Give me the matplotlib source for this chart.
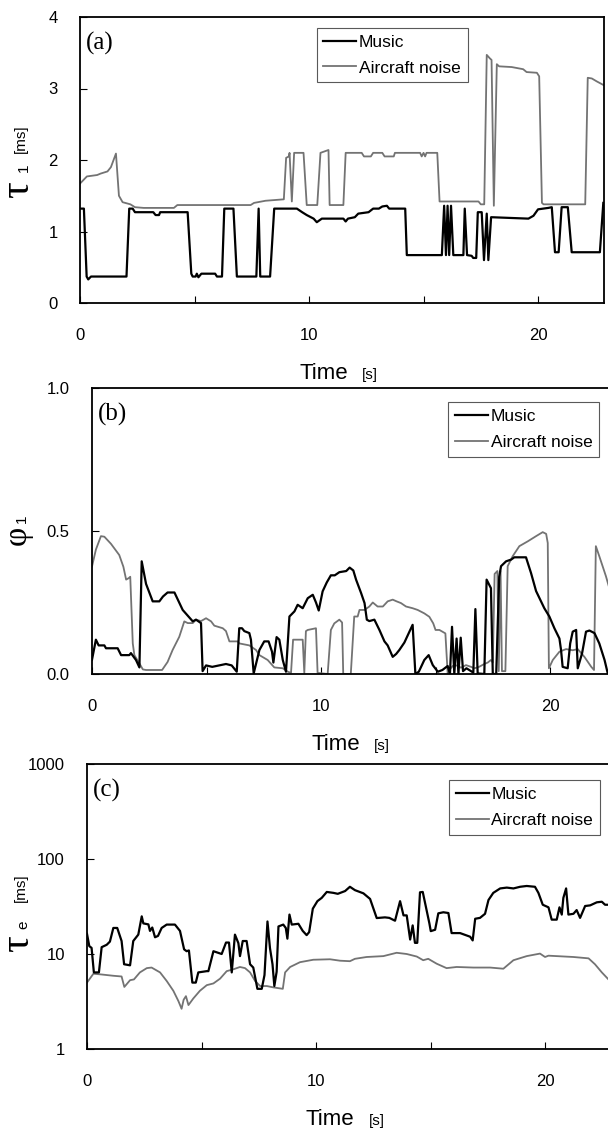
import matplotlib
matplotlib.use('Agg')
import matplotlib.pyplot as plt
from matplotlib.ticker import FixedLocator, NullLocator

plt.rcParams['font.family'] = ['Liberation Sans', 'DejaVu Sans']

# ---------------- data ----------------
# (a) tau_1 [ms]
t_a_mus = [
    0.00, 0.17, 0.29, 0.36, 0.48, 2.03, 2.15, 2.30, 2.40, 3.20,
    3.30, 3.45, 3.50, 4.70, 4.86, 4.92, 5.05, 5.10, 5.17, 5.30,
    5.90, 5.98, 6.20, 6.30, 6.70, 6.85, 7.70, 7.80, 7.87, 8.30,
    8.48, 9.47, 9.70, 9.90, 10.20, 10.34, 10.56, 11.50, 11.60, 11.70,
    12.00, 12.15, 12.60, 12.80, 13.05, 13.20, 13.40, 13.50, 14.20, 14.27,
    15.80, 15.90, 15.98, 16.05, 16.12, 16.20, 16.30, 16.74, 16.80, 16.90,
    17.10, 17.17, 17.30, 17.37, 17.54, 17.64, 17.76, 17.83, 17.95, 19.58,
    19.80, 20.00, 20.45, 20.60, 20.74, 20.90, 21.03, 21.30, 21.47, 22.70,
    22.85]
v_a_mus = [
    1.32, 1.32, 0.37, 0.33, 0.37, 0.37, 1.32, 1.32, 1.27, 1.27,
    1.23, 1.23, 1.27, 1.27, 0.41, 0.37, 0.37, 0.41, 0.36, 0.41,
    0.41, 0.37, 0.37, 1.32, 1.32, 0.37, 0.37, 1.32, 0.37, 0.37,
    1.32, 1.32, 1.27, 1.23, 1.18, 1.13, 1.18, 1.18, 1.14, 1.18,
    1.20, 1.25, 1.27, 1.32, 1.32, 1.35, 1.36, 1.32, 1.32, 0.67,
    0.67, 1.36, 0.67, 1.36, 0.67, 1.36, 0.67, 0.67, 1.32, 0.67,
    0.66, 0.63, 0.63, 1.27, 1.27, 0.60, 1.25, 0.60, 1.20, 1.18,
    1.22, 1.31, 1.33, 1.34, 0.71, 0.71, 1.34, 1.34, 0.71, 0.71,
    1.40]
t_a_air = [
    0.00, 0.30, 0.75, 0.90, 1.20, 1.35, 1.57, 1.70, 1.86, 2.20,
    2.40, 2.78, 4.10, 4.25, 7.45, 7.60, 8.10, 8.90, 9.00, 9.12,
    9.15, 9.25, 9.35, 9.76, 9.90, 10.36, 10.50, 10.85, 10.90, 11.50,
    11.60, 12.30, 12.40, 12.70, 12.80, 13.20, 13.30, 13.70, 13.75, 14.85,
    14.92, 15.00, 15.07, 15.13, 15.30, 15.60, 15.70, 17.40, 17.50, 17.65,
    17.76, 17.90, 17.97, 18.07, 18.20, 18.30, 18.85, 19.35, 19.50, 19.95,
    20.05, 20.17, 20.24, 22.06, 22.17, 22.35, 22.56, 22.85]
v_a_air = [
    1.67, 1.77, 1.79, 1.81, 1.84, 1.90, 2.09, 1.50, 1.41, 1.38,
    1.34, 1.33, 1.33, 1.37, 1.37, 1.40, 1.43, 1.45, 2.03, 2.05,
    2.10, 1.42, 2.10, 2.10, 1.37, 1.37, 2.10, 2.14, 1.37, 1.37,
    2.10, 2.10, 2.05, 2.05, 2.10, 2.10, 2.05, 2.05, 2.10, 2.10,
    2.05, 2.10, 2.05, 2.10, 2.10, 2.10, 1.42, 1.42, 1.38, 1.38,
    3.47, 3.42, 3.40, 1.36, 3.34, 3.31, 3.30, 3.27, 3.23, 3.22,
    3.17, 1.40, 1.38, 1.38, 3.15, 3.14, 3.10, 3.05]

# (b) phi_1
t_b_mus = [
    0.00, 0.17, 0.29, 0.54, 0.61, 1.12, 1.27, 1.63, 1.70, 1.92,
    2.07, 2.17, 2.36, 2.65, 2.94, 3.10, 3.30, 3.60, 3.96, 4.40,
    4.54, 4.76, 4.83, 4.98, 5.25, 5.55, 5.85, 6.10, 6.32, 6.43,
    6.55, 6.65, 6.87, 6.94, 7.06, 7.31, 7.52, 7.71, 7.86, 7.92,
    8.06, 8.18, 8.33, 8.47, 8.62, 8.84, 8.98, 9.20, 9.42, 9.64,
    9.78, 9.90, 10.07, 10.25, 10.43, 10.60, 10.80, 11.10, 11.25, 11.41,
    11.53, 11.75, 11.90, 12.00, 12.11, 12.33, 12.55, 12.77, 12.91, 13.13,
    13.28, 13.42, 13.64, 13.86, 14.00, 14.12, 14.27, 14.51, 14.70, 14.88,
    15.10, 15.30, 15.53, 15.63, 15.72, 15.82, 15.92, 16.00, 16.10, 16.20,
    16.35, 16.55, 16.65, 16.74, 16.84, 17.13, 17.23, 17.42, 17.50, 17.65,
    17.78, 17.86, 18.08, 18.30, 18.44, 18.95, 19.17, 19.39, 19.75, 19.97,
    20.19, 20.41, 20.48, 20.55, 20.77, 20.88, 20.99, 21.14, 21.21, 21.40,
    21.57, 21.72, 21.94, 22.15, 22.38, 22.52, 22.85]
v_b_mus = [
    0.050, 0.120, 0.100, 0.100, 0.090, 0.090, 0.066, 0.066, 0.073, 0.049,
    0.023, 0.394, 0.315, 0.254, 0.254, 0.271, 0.285, 0.285, 0.224, 0.184,
    0.190, 0.178, 0.010, 0.030, 0.025, 0.030, 0.035, 0.030, 0.008, 0.160,
    0.160, 0.150, 0.143, 0.120, 0.002, 0.084, 0.114, 0.114, 0.078, 0.040,
    0.129, 0.120, 0.049, 0.008, 0.201, 0.219, 0.242, 0.230, 0.265, 0.277,
    0.250, 0.222, 0.289, 0.320, 0.345, 0.345, 0.356, 0.360, 0.372, 0.362,
    0.330, 0.283, 0.248, 0.190, 0.185, 0.190, 0.154, 0.114, 0.100, 0.060,
    0.070, 0.084, 0.110, 0.148, 0.172, 0.000, 0.008, 0.049, 0.066, 0.031,
    0.008, 0.014, 0.028, 0.000, 0.165, 0.000, 0.124, 0.000, 0.127, 0.010,
    0.020, 0.010, 0.005, 0.227, 0.002, 0.000, 0.330, 0.300, 0.000, 0.000,
    0.340, 0.377, 0.394, 0.400, 0.408, 0.408, 0.353, 0.290, 0.230, 0.201,
    0.160, 0.124, 0.084, 0.025, 0.020, 0.107, 0.148, 0.154, 0.020, 0.073,
    0.148, 0.152, 0.143, 0.107, 0.049, 0.002, 0.000]
t_b_air = [
    0.00, 0.17, 0.39, 0.54, 0.83, 1.19, 1.37, 1.49, 1.60, 1.67,
    1.78, 1.85, 2.07, 2.22, 2.36, 3.06, 3.30, 3.52, 3.81, 4.03,
    4.18, 4.40, 4.54, 4.76, 4.98, 5.20, 5.34, 5.71, 5.85, 6.00,
    6.36, 6.43, 6.87, 7.16, 7.31, 7.67, 7.96, 8.33, 8.55, 8.69,
    8.78, 9.20, 9.27, 9.34, 9.42, 9.78, 9.85, 10.29, 10.43, 10.58,
    10.80, 10.92, 10.97, 11.30, 11.45, 11.60, 11.68, 11.90, 12.11, 12.26,
    12.47, 12.70, 12.91, 13.13, 13.30, 13.49, 13.71, 14.00, 14.22, 14.51,
    14.73, 14.90, 15.00, 15.17, 15.30, 15.43, 15.53, 15.60, 15.75, 15.95,
    16.11, 16.33, 16.55, 16.70, 16.90, 17.13, 17.28, 17.42, 17.50, 17.58,
    17.70, 17.76, 17.84, 17.90, 18.05, 18.15, 18.37, 18.66, 19.03, 19.39,
    19.68, 19.83, 19.90, 19.95, 20.12, 20.41, 20.70, 20.99, 21.21, 21.50,
    21.80, 21.92, 22.00, 22.15, 22.44, 22.59, 22.85]
v_b_air = [
    0.376, 0.435, 0.482, 0.480, 0.455, 0.416, 0.375, 0.330, 0.335, 0.340,
    0.107, 0.066, 0.037, 0.016, 0.014, 0.014, 0.042, 0.084, 0.130, 0.184,
    0.178, 0.178, 0.190, 0.185, 0.195, 0.184, 0.169, 0.160, 0.150, 0.114,
    0.114, 0.107, 0.100, 0.084, 0.066, 0.049, 0.023, 0.020, 0.008, 0.004,
    0.120, 0.120, 0.004, 0.150, 0.154, 0.160, 0.004, 0.000, 0.154, 0.177,
    0.190, 0.180, 0.000, 0.000, 0.201, 0.201, 0.224, 0.224, 0.236, 0.250,
    0.236, 0.236, 0.254, 0.260, 0.254, 0.248, 0.236, 0.230, 0.224, 0.212,
    0.200, 0.177, 0.154, 0.154, 0.148, 0.142, 0.002, 0.014, 0.028, 0.030,
    0.022, 0.031, 0.025, 0.020, 0.025, 0.035, 0.040, 0.049, 0.040, 0.350,
    0.360, 0.010, 0.360, 0.010, 0.010, 0.377, 0.412, 0.447, 0.464, 0.482,
    0.496, 0.490, 0.458, 0.020, 0.049, 0.078, 0.087, 0.083, 0.087, 0.060,
    0.025, 0.014, 0.447, 0.412, 0.342, 0.300, 0.250]

# (c) tau_e [ms]
t_c_mus = [
    0.00, 0.10, 0.20, 0.30, 0.52, 0.64, 0.86, 1.00, 1.15, 1.32,
    1.51, 1.62, 1.88, 2.02, 2.24, 2.39, 2.46, 2.68, 2.75, 2.85,
    2.97, 3.10, 3.26, 3.48, 3.84, 4.06, 4.24, 4.35, 4.45, 4.60,
    4.75, 4.86, 5.23, 5.30, 5.52, 5.88, 6.07, 6.20, 6.32, 6.46,
    6.61, 6.68, 6.80, 6.97, 7.12, 7.26, 7.44, 7.63, 7.75, 7.88,
    7.99, 8.10, 8.18, 8.28, 8.36, 8.57, 8.68, 8.75, 8.84, 8.94,
    9.23, 9.42, 9.59, 9.70, 9.86, 10.06, 10.25, 10.47, 10.76, 10.95,
    11.27, 11.48, 11.70, 12.07, 12.36, 12.65, 13.01, 13.20, 13.45, 13.67,
    13.82, 13.96, 14.11, 14.22, 14.32, 14.42, 14.54, 14.66, 14.80, 14.95,
    15.01, 15.20, 15.34, 15.56, 15.78, 15.92, 16.29, 16.51, 16.73, 16.84,
    16.95, 17.16, 17.38, 17.53, 17.74, 18.04, 18.33, 18.62, 18.91, 19.20,
    19.56, 19.71, 19.90, 20.15, 20.29, 20.51, 20.63, 20.73, 20.80, 20.92,
    21.02, 21.24, 21.38, 21.53, 21.75, 21.97, 22.26, 22.48, 22.62, 22.85]
v_c_mus = [
    16.3, 12.1, 11.6, 6.4, 6.4, 11.8, 12.5, 13.5, 18.8, 18.8,
    13.7, 7.8, 7.6, 13.7, 16.0, 24.9, 21.0, 20.5, 17.5, 19.0,
    15.0, 15.5, 18.8, 20.4, 20.4, 17.5, 11.2, 10.7, 10.9, 5.0,
    5.0, 6.4, 6.6, 6.6, 10.7, 10.0, 13.2, 13.2, 6.4, 16.0,
    13.0, 9.5, 13.7, 13.7, 7.8, 7.2, 4.3, 4.3, 6.0, 22.0,
    11.5, 7.8, 4.6, 6.5, 19.5, 20.4, 18.8, 14.5, 26.0, 20.4,
    20.8, 17.5, 15.8, 17.0, 30.0, 36.0, 39.0, 45.0, 44.0, 43.0,
    46.0, 51.0, 47.0, 43.5, 38.0, 23.9, 24.3, 24.0, 22.4, 36.0,
    25.5, 25.5, 14.2, 20.0, 13.1, 13.1, 44.6, 45.0, 31.0, 21.0,
    17.4, 18.0, 26.8, 27.5, 27.0, 16.6, 16.6, 15.9, 15.2, 13.9,
    23.5, 24.0, 26.5, 37.0, 44.0, 49.0, 50.0, 49.0, 51.0, 52.0,
    51.0, 44.0, 33.0, 31.0, 23.0, 23.0, 31.0, 26.0, 39.0, 49.0,
    26.0, 26.5, 29.0, 24.0, 32.0, 32.5, 35.0, 35.5, 33.0, 33.0]
t_c_air = [
    0.00, 0.28, 0.60, 1.15, 1.51, 1.63, 1.88, 2.05, 2.31, 2.61,
    2.82, 3.19, 3.48, 3.77, 3.99, 4.13, 4.22, 4.32, 4.43, 4.64,
    4.93, 5.23, 5.52, 5.81, 6.10, 6.39, 6.68, 6.90, 7.12, 7.34,
    7.56, 7.85, 8.14, 8.55, 8.65, 8.87, 9.30, 9.88, 10.61, 11.05,
    11.48, 11.70, 12.21, 12.94, 13.52, 13.96, 14.40, 14.68, 14.90, 15.27,
    15.70, 16.14, 16.87, 17.60, 18.18, 18.62, 19.20, 19.78, 20.00, 20.15,
    21.24, 21.90, 22.18, 22.48, 22.77, 22.85]
v_c_air = [
    5.0, 6.2, 6.1, 5.9, 5.8, 4.5, 5.3, 5.4, 6.4, 7.1,
    7.2, 6.4, 5.2, 4.1, 3.2, 2.65, 3.3, 3.6, 2.9, 3.4,
    4.1, 4.7, 4.9, 5.5, 6.6, 6.9, 7.3, 7.1, 6.4, 5.2,
    4.6, 4.6, 4.45, 4.3, 6.4, 7.3, 8.2, 8.7, 8.8, 8.5,
    8.4, 8.9, 9.3, 9.5, 10.3, 10.0, 9.4, 8.6, 8.9, 7.9,
    7.1, 7.3, 7.2, 7.2, 7.0, 8.6, 9.5, 10.1, 9.3, 9.6,
    9.3, 9.0, 7.8, 6.4, 5.4, 5.2]

series_names = ['Music', 'Aircraft noise']
x_major = [0, 10, 20]
x_minor = [5, 15]
XMAX = 22.88

# ---------------- layout ----------------
W, H = 608, 1133
fig = plt.figure(figsize=(W / 100, H / 100), dpi=100)


def box(left, top, bottom, right):
    return [left / W, 1 - bottom / H, (right - left) / W, (bottom - top) / H]


def ftext(x, y, s, **kw):
    fig.text(x / W, 1 - y / H, s, **kw)


ax_a = fig.add_axes(box(80, 17, 303, 604))
ax_b = fig.add_axes(box(92, 388, 674, 616))
ax_c = fig.add_axes(box(87, 764, 1049, 611))

panels = [
    (ax_a, t_a_mus, v_a_mus, t_a_air, v_a_air, '(a)', (0.740, 0.962)),
    (ax_b, t_b_mus, v_b_mus, t_b_air, v_b_air, '(b)', (0.968, 0.951)),
    (ax_c, t_c_mus, v_c_mus, t_c_air, v_c_air, '(c)', (0.979, 0.944)),
]

for ax, tm, vm, tn, vn, tag, anchor in panels:
    ax.plot(tm, vm, color='black', lw=1.6, label=series_names[0], zorder=3)
    ax.plot(tn, vn, color='0.45', lw=1.3, label=series_names[1], zorder=2)
    ax.set_xlim(0, XMAX)
    ax.xaxis.set_major_locator(FixedLocator(x_major))
    ax.xaxis.set_minor_locator(FixedLocator(x_minor))
    ax.yaxis.set_minor_locator(NullLocator())
    ax.tick_params(which='both', direction='in', length=5, width=0.8,
                   labelsize=12, colors='black')
    ax.tick_params(axis='x', pad=18)
    ax.tick_params(axis='y', pad=16)
    for s in ax.spines.values():
        s.set_linewidth(1.3)
    ax.text(0.012, 0.885, tag, transform=ax.transAxes, fontsize=18,
            family=['Liberation Serif', 'DejaVu Serif'], va='baseline', ha='left')
    leg = ax.legend(loc='upper right', bbox_to_anchor=anchor, fancybox=False,
                    edgecolor='0.35', framealpha=1, fontsize=12.5,
                    handlelength=1.9, handletextpad=0.15, borderpad=0.4,
                    labelspacing=0.6, borderaxespad=0)
    leg.get_frame().set_linewidth(0.8)

ax_a.set_ylim(0, 4)
ax_a.set_yticks([0, 1, 2, 3, 4])

ax_b.set_ylim(0, 1)
ax_b.set_yticks([0, 0.5, 1.0])
ax_b.set_yticklabels(['0.0', '0.5', '1.0'])

ax_c.set_yscale('log')
ax_c.set_ylim(1, 1000)
ax_c.set_yticks([1, 10, 100, 1000])
ax_c.set_yticklabels(['1', '10', '100', '1000'])
ax_c.yaxis.set_minor_locator(NullLocator())

# x axis titles
for left, bottom in [(80, 303), (92, 674), (87, 1049)]:
    ftext(left + 219, bottom + 76, 'Time', fontsize=16, ha='left', va='baseline')
    ftext(left + 282, bottom + 76, '[s]', fontsize=11, ha='left', va='baseline')

# y axis titles
serif = ['Liberation Serif', 'DejaVu Serif']
ftext(18, 190, 'τ', fontsize=30, family=serif, rotation=90, ha='center', va='center')
ftext(24, 168, '1', fontsize=11, rotation=90, ha='center', va='center')
ftext(21, 139, '[ms]', fontsize=11, rotation=90, ha='center', va='center')

ftext(17, 535, 'φ', fontsize=24, family=serif, rotation=90, ha='center', va='center')
ftext(22, 519, '1', fontsize=11, rotation=90, ha='center', va='center')

ftext(18, 944, 'τ', fontsize=30, family=serif, rotation=90, ha='center', va='center')
ftext(23, 925, 'e', fontsize=11, rotation=90, ha='center', va='center')
ftext(21, 888, '[ms]', fontsize=11, rotation=90, ha='center', va='center')

fig.savefig('out.png', dpi=100)
